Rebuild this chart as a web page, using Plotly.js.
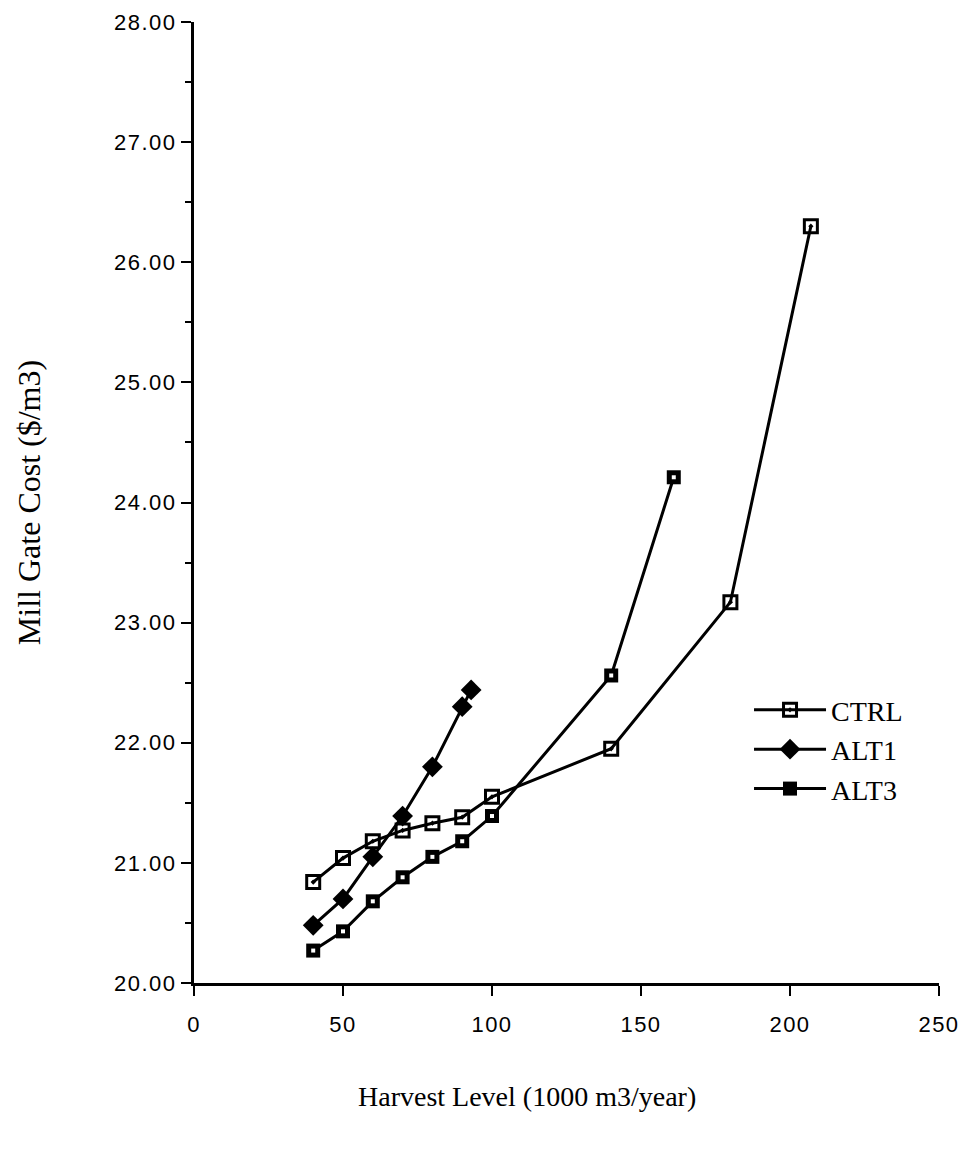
<!DOCTYPE html>
<html>
<head>
<meta charset="utf-8">
<script src="https://cdn.plot.ly/plotly-3.0.1.min.js"></script>
<style>
  html, body { margin: 0; padding: 0; background: #fff; }
  #chart { width: 969px; height: 1154px; }
  .xtick text, .ytick text { letter-spacing: 1.5px; }
</style>
</head>
<body>
<div id="chart"></div>
<script>
// Harvest level (1000 m3/year)
const ctrlX = [40, 50, 60, 70, 80, 90, 100, 140, 180, 207];
const ctrlY = [20.84, 21.04, 21.18, 21.27, 21.33, 21.38, 21.55, 21.95, 23.17, 26.30];

const alt1X = [40, 50, 60, 70, 80, 90, 93];
const alt1Y = [20.48, 20.70, 21.05, 21.39, 21.80, 22.30, 22.44];

const alt3X = [40, 50, 60, 70, 80, 90, 100, 140, 161];
const alt3Y = [20.27, 20.43, 20.68, 20.88, 21.05, 21.18, 21.39, 22.56, 24.21];

const xTicks = [0, 50, 100, 150, 200, 250];
const yTicks = [20, 21, 22, 23, 24, 25, 26, 27, 28];

const black = '#000000';
const lineW = 3;

const traces = [
  {
    x: ctrlX, y: ctrlY, name: 'CTRL', mode: 'lines+markers', type: 'scatter',
    line: { color: black, width: lineW },
    marker: { symbol: 'square-open-dot', size: 13, color: black, line: { color: black, width: 3 } }
  },
  {
    x: alt1X, y: alt1Y, name: 'ALT1', mode: 'lines+markers', type: 'scatter',
    line: { color: black, width: lineW },
    marker: { symbol: 'diamond', size: 16, color: black }
  },
  {
    x: alt3X, y: alt3Y, name: 'ALT3', mode: 'lines+markers', type: 'scatter',
    line: { color: black, width: lineW },
    marker: { symbol: 'square', size: 14, color: black }
  },
  {
    x: alt3X, y: alt3Y, name: 'ALT3 centre', mode: 'markers', type: 'scatter',
    showlegend: false, hoverinfo: 'skip',
    marker: { symbol: 'square', size: 4, color: '#ffffff' }
  }
];

const layout = {
  width: 969, height: 1154,
  margin: { l: 194, r: 30, t: 22, b: 171 },
  paper_bgcolor: '#ffffff', plot_bgcolor: '#ffffff',
  showlegend: true,
  legend: {
    x: 0.745, y: 0.31, xanchor: 'left', yanchor: 'top',
    font: { family: 'Liberation Serif', size: 28, color: black },
    bgcolor: 'rgba(0,0,0,0)', itemwidth: 72
  },
  xaxis: {
    range: [0, 250], tickvals: xTicks, ticktext: xTicks.map(String),
    showgrid: false, zeroline: false, showline: true, linecolor: black, linewidth: 3,
    ticks: 'outside', ticklen: 10, tickwidth: 2, tickcolor: black,
    ticklabelstandoff: 10,
    tickfont: { family: 'Liberation Sans', size: 22, color: black }
  },
  yaxis: {
    range: [20, 28], tickvals: yTicks, tickformat: '.2f',
    showgrid: false, zeroline: false, showline: true, linecolor: black, linewidth: 3,
    ticks: 'outside', ticklen: 10, tickwidth: 2, tickcolor: black,
    minor: { dtick: 0.5, tick0: 20, ticks: 'outside', ticklen: 6, tickwidth: 2, tickcolor: black, showgrid: false },
    tickfont: { family: 'Liberation Sans', size: 22, color: black },
    title: { text: 'Mill Gate Cost ($/m3)', font: { family: 'Liberation Serif', size: 32, color: black }, standoff: 64 }
  },
  annotations: [
    {
      text: 'Harvest Level (1000 m3/year)', xref: 'paper', yref: 'paper',
      x: (527 - 194) / 745, y: -0.118, xanchor: 'center', yanchor: 'middle',
      showarrow: false, font: { family: 'Liberation Serif', size: 28, color: black }
    }
  ]
};

Plotly.newPlot('chart', traces, layout, { displayModeBar: false, staticPlot: true });
</script>
</body>
</html>
